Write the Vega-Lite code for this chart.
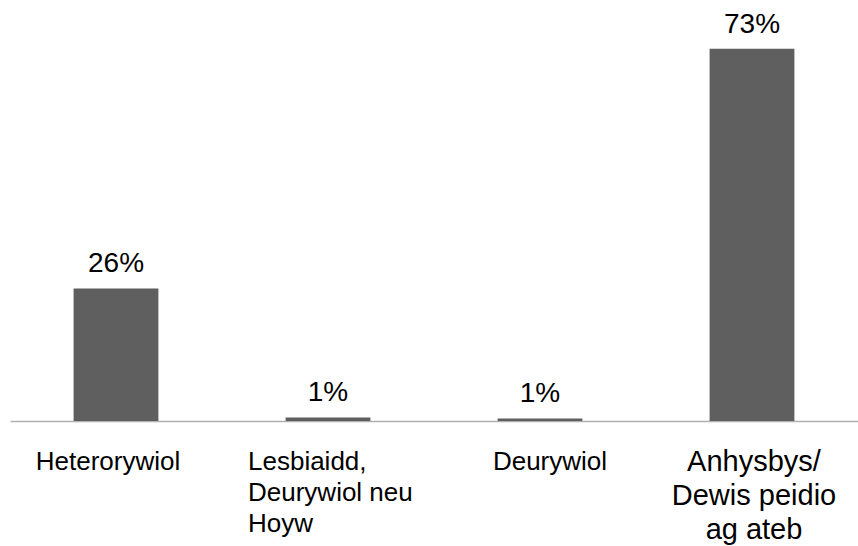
{
  "$schema": "https://vega.github.io/schema/vega-lite/v6.json",
  "width": 848,
  "height": 408,
  "padding": {"left": 10, "top": 13, "right": 0, "bottom": 125},
  "autosize": {"type": "none"},
  "background": "white",
  "config": {"view": {"stroke": null}, "font": "Liberation Sans"},
  "data": {
    "values": [
      {"category": "Heterorywiol", "value": 26, "label": "26%"},
      {"category": "Lesbiaidd, Deurywiol neu Hoyw", "value": 0.7, "label": "1%"},
      {"category": "Deurywiol", "value": 0.5, "label": "1%"},
      {"category": "Anhysbys/ Dewis peidio ag ateb", "value": 73, "label": "73%"}
    ]
  },
  "layer": [
    {
      "mark": {"type": "bar", "color": "#5f5f5f"},
      "encoding": {
        "x": {
          "field": "category",
          "type": "nominal",
          "sort": null,
          "scale": {"paddingInner": 0.6, "paddingOuter": 0.3},
          "axis": {
            "title": null,
            "orient": "bottom",
            "domainColor": "#b0b0b0",
            "domainWidth": 1.5,
            "ticks": false,
            "tickSize": 0,
            "labelAngle": 0,
            "labelFont": "Liberation Sans",
            "labelFontSize": 26,
            "labelColor": "black",
            "labelLineHeight": 31,
            "labelPadding": 27,
            "labelBaseline": "top",
            "labelLimit": 400,
            "labelOverlap": false,
            "labelBound": false,
            "labelAlign": {"condition": {"test": "datum.value === 'Lesbiaidd, Deurywiol neu Hoyw'", "value": "left"}, "value": "center"},
            "labelOffset": {"condition": [
              {"test": "datum.value === 'Heterorywiol'", "value": -8},
              {"test": "datum.value === 'Lesbiaidd, Deurywiol neu Hoyw'", "value": -80},
              {"test": "datum.value === 'Deurywiol'", "value": 10}
            ], "value": 0},
            "labelExpr": "datum.value === 'Lesbiaidd, Deurywiol neu Hoyw' ? ['Lesbiaidd,', 'Deurywiol neu', 'Hoyw'] : (datum.value === 'Anhysbys/ Dewis peidio ag ateb' ? '' : datum.value)"
          }
        },
        "y": {"field": "value", "type": "quantitative", "scale": {"domain": [0, 80]}, "axis": null}
      }
    },
    {
      "mark": {"type": "text", "baseline": "alphabetic", "dy": -16, "fontSize": 28, "color": "black", "font": "Liberation Sans"},
      "encoding": {
        "x": {
          "field": "category",
          "type": "nominal",
          "sort": null,
          "axis": {
            "title": null,
            "orient": "bottom",
            "domain": false,
            "ticks": false,
            "tickSize": 0,
            "labelAngle": 0,
            "labelFont": "Liberation Sans",
            "labelFontSize": 29,
            "labelColor": "black",
            "labelLineHeight": 34,
            "labelPadding": 26,
            "labelOffset": 2,
            "labelBaseline": "top",
            "labelLimit": 400,
            "labelOverlap": false,
            "labelBound": false,
            "labelExpr": "datum.value === 'Anhysbys/ Dewis peidio ag ateb' ? ['Anhysbys/', 'Dewis peidio', 'ag ateb'] : ''"
          }
        },
        "y": {"field": "value", "type": "quantitative", "scale": {"domain": [0, 80]}, "axis": null},
        "text": {"field": "label"}
      }
    }
  ],
  "resolve": {"axis": {"x": "independent"}}
}
